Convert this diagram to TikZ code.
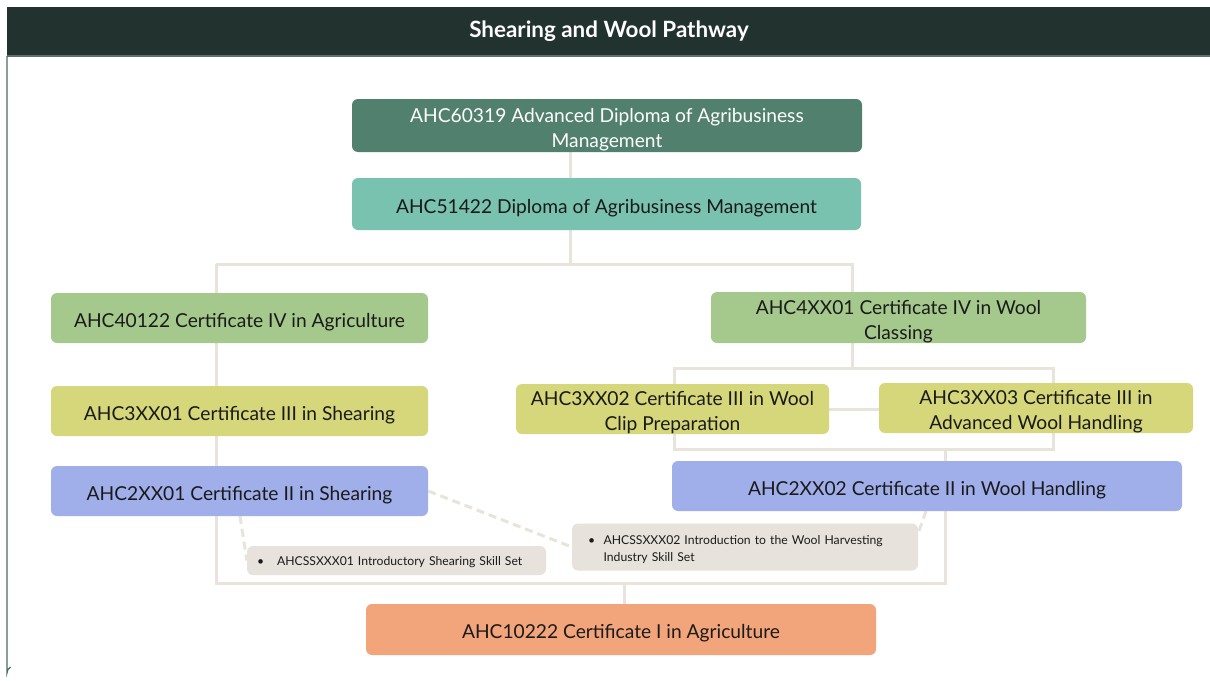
\documentclass[tikz,border=0pt]{standalone}
\usepackage{fontspec}
\setmainfont{Lato}
\definecolor{hdr}{HTML}{22332F}
\definecolor{hdrline}{HTML}{5E6E6A}
\definecolor{frame}{HTML}{4D6A62}
\definecolor{cA}{HTML}{52806F}
\definecolor{cB}{HTML}{7AC2B0}
\definecolor{cG}{HTML}{A5C98C}
\definecolor{cY}{HTML}{D6D67B}
\definecolor{cU}{HTML}{A0AEEA}
\definecolor{cS}{HTML}{E7E3DC}
\definecolor{cO}{HTML}{F2A57B}
\definecolor{conn}{HTML}{E8E4DC}
\definecolor{txt}{HTML}{1A1A1A}
\newcommand\cardtext[1]{\raisebox{-4pt}[\height][\depth]{\begin{tabular}{@{}c@{}}#1\end{tabular}}}
\newcommand\lowered[2]{\raisebox{-#1}[\height][\depth]{#2}}
\pgfdeclarelayer{back}
\pgfdeclarelayer{edges}
\pgfsetlayers{back,edges,main}
\tikzset{
  card/.style={rounded corners=6pt, draw=none, align=center, inner sep=0pt,
    text=txt, font=\fontsize{19.2}{25}\selectfont},
  skillbox/.style={rounded corners=6pt, draw=none, align=left, inner ysep=0pt,
    text=txt, font=\fontsize{12.2}{17}\selectfont},
  link/.style={draw=conn, line width=3pt},
  dashlink/.style={draw=conn, line width=3pt, dash pattern=on 8pt off 5pt},
}
\begin{document}
\begin{tikzpicture}[x=1pt,y=-1pt]
\useasboundingbox (0,0) rectangle (1210,680);
% frame
\begin{pgfonlayer}{back}
\fill[white] (0,0) rectangle (1210,680);
\fill[hdr] (7,7) rectangle (1210,56);
\draw[hdrline, line width=1.5pt] (7,56) -- (1210,56);
\draw[frame, line width=1.2pt] (7,56) -- (7,673) arc (180:240:7);
\end{pgfonlayer}
\node[text=white, font=\bfseries\fontsize{22.4}{26}\selectfont] (title) at (609,31) {Shearing and Wool Pathway};

% cards
\node[card, fill=cA, text=white, minimum width=510pt, minimum height=53pt] (n1) at (607,125.5)
  {\cardtext{AHC60319 Advanced Diploma of Agribusiness\\Management}};
\node[card, fill=cB, minimum width=509pt, minimum height=52pt] (n2) at (606.5,204)
  {\cardtext{AHC51422 Diploma of Agribusiness Management}};
\node[card, fill=cG, minimum width=377pt, minimum height=50pt] (n3) at (239.5,318)
  {\cardtext{AHC40122 Certificate IV in Agriculture}};
\node[card, fill=cG, minimum width=375pt, minimum height=51pt] (n4) at (898.5,317.5)
  {\cardtext{AHC4XX01 Certificate IV in Wool\\Classing}};
\node[card, fill=cY, minimum width=377pt, minimum height=50pt] (n5) at (239.5,411)
  {\cardtext{AHC3XX01 Certificate III in Shearing}};
\node[card, fill=cY, minimum width=313pt, minimum height=50pt] (n6) at (672.5,409)
  {\cardtext{AHC3XX02 Certificate III in Wool\\Clip Preparation}};
\node[card, fill=cY, minimum width=314pt, minimum height=50pt] (n7) at (1036,408)
  {\cardtext{AHC3XX03 Certificate III in\\Advanced Wool Handling}};
\node[card, fill=cU, minimum width=377pt, minimum height=50pt] (n8) at (239.5,491)
  {\cardtext{AHC2XX01 Certificate II in Shearing}};
\node[card, fill=cU, minimum width=510pt, minimum height=50pt] (n9) at (927,486)
  {\cardtext{AHC2XX02 Certificate II in Wool Handling}};
\node[skillbox, fill=cS, inner xsep=10pt, text width=279pt, minimum height=29pt] (s1) at (396.5,560.5)
  {\lowered{2pt}{\textbullet\hspace{13pt}AHCSSXXX01 Introductory Shearing Skill Set}};
\node[skillbox, fill=cS, inner xsep=16pt, text width=314pt, minimum height=47pt] (s2) at (745,547)
  {\lowered{3pt}{\begin{tabular}{@{}l@{\hspace{8.5pt}}l@{}}\textbullet & AHCSSXXX02 Introduction to the Wool Harvesting\\ & Industry Skill Set\end{tabular}}};
\node[card, fill=cO, minimum width=510pt, minimum height=51pt] (n10) at (621,629.5)
  {\cardtext{AHC10222 Certificate I in Agriculture}};

% junction coordinates
\coordinate (sp) at (570,264);
\coordinate (bl) at (216,264);
\coordinate (br) at (852,264);
\coordinate (bb) at (216,583);
\coordinate (bm) at (624,583);
\coordinate (bbr) at (945,583);
\coordinate (r1) at (674,368);
\coordinate (r2) at (1053,368);
\coordinate (r3) at (1053,449);
\coordinate (r4) at (674,449);
\coordinate (d1) at (240,516);
\coordinate (d3) at (926,511);
\coordinate (d4) at (919,531);

\begin{pgfonlayer}{edges}
\draw[link] (n1.south -| sp) -- (n2.north -| sp);
\draw[link] (n2.south -| sp) -- (sp);
\draw[link] (bl) -- (br) -- (n4.north -| br);
\draw[link] (bl) -- (bb) -- (bbr) -- (n9.south -| bbr);
\draw[link] (bm) -- (n10.north -| bm);
\draw[link] (n4.south -| br) -- (br |- r1);
\draw[link] (r1) -- (r2) -- (r3) -- (r4) -- cycle;
\draw[link] (n9.north -| bbr) -- (bbr |- r3);
\draw[link] (n6.east) -- (n7.west |- n6.east);
\draw[dashlink] (d1) -- (s1.west);
\draw[dashlink] (n8.east) -- (s2.west);
\draw[dashlink] (d3) -- (d4);
\end{pgfonlayer}
\end{tikzpicture}
\end{document}
